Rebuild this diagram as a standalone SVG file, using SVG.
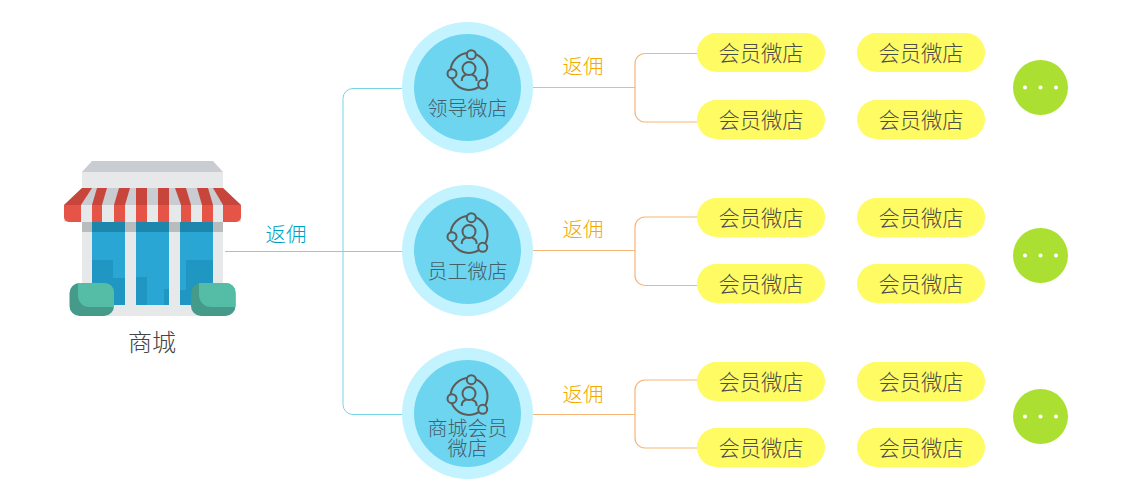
<svg xmlns="http://www.w3.org/2000/svg" xmlns:xlink="http://www.w3.org/1999/xlink" width="1130" height="498" viewBox="0 0 1130 498">
<style>
text{font-family:"Noto Sans CJK SC","Liberation Sans",sans-serif;text-anchor:middle;font-weight:300}
.blue{fill:none;stroke:#74d5e8;stroke-width:1}
.or{fill:none;stroke:#f7b577;stroke-width:1.200}
.pill{fill:#fffb62}
.pt{font-size:21.300px;fill:#4e4e48}
.rb{font-size:20.500px;fill:#f2a900}
.st{font-size:20px;fill:#45606b}
.outer{fill:#c3f3ff}
.inner{fill:#6dd5f0}
.ic{fill:none;stroke:#5e5a58;stroke-width:2}
.ics{fill:#6dd5f0;stroke:#5e5a58;stroke-width:2}
.more{fill:#abe032}
.dot{fill:#fff}
</style>
<defs>
<g id="icon">
<circle class="ic" cx="469" cy="71.500" r="18.500"/>
<circle class="ics" cx="471.300" cy="54.700" r="4.500"/>
<circle class="ics" cx="452" cy="73.700" r="4.500"/>
<circle class="ics" cx="482.700" cy="84.300" r="4.500"/>
<circle class="ic" cx="469" cy="68.500" r="6.500"/>
<path class="ic" d="M461.700 81C461.700 77.500 463.500 75.500 466 74.800M476.700 81C476.700 77.500 474.500 75.500 472 74.800"/>
</g>
<g id="m">
<rect class="pill" x="0" y="0" width="128" height="39" rx="19.500"/>
<text class="pt" x="64" y="27.500">会员微店</text>
</g>
<g id="dots">
<circle class="more" cx="0" cy="0" r="27.500"/>
<circle class="dot" cx="-15.500" cy="0" r="2"/>
<circle class="dot" cx="0" cy="0" r="2"/>
<circle class="dot" cx="15.500" cy="0" r="2"/>
</g>
</defs>

<g id="connectors">
<path class="blue" d="M225 251.500H402M402 88.500H353a10 10 0 0 0-10 10V404.500a10 10 0 0 0 10 10H402"/>
<path class="or" d="M533 87.500H634.500M697 53.500H645a10 10 0 0 0-10 10V112a10 10 0 0 0 10 10H697"/>
<path class="or" d="M533 250.500H634.500M697 217H645a10 10 0 0 0-10 10V275.500a10 10 0 0 0 10 10H697"/>
<path class="or" d="M533 414.500H634.500M697 380H645a10 10 0 0 0-10 10V438a10 10 0 0 0 10 10H697"/>
</g>
<g id="labels">
<text x="286" y="242" font-size="20.500" fill="#009fc4">返佣</text>
<text class="rb" x="583" y="74">返佣</text>
<text class="rb" x="583" y="237">返佣</text>
<text class="rb" x="583" y="402">返佣</text>
</g>

<g id="store">
<polygon points="92,161 213,161 223,172 82,172" fill="#c9ccd0"/>
<rect x="82" y="172" width="141" height="144" fill="#e6e8ea"/>
<polygon points="82,188 223,188 241,205 64,205" fill="#c9ccd0"/>
<g fill="#c7453b">
<polygon points="82,188 92,188 81,205 64,205"/>
<polygon points="97,188 107,188 102,205 92,205"/>
<polygon points="119,188 130,188 125,205 114,205"/>
<polygon points="136,188 147,188 147,205 136,205"/>
<polygon points="158,188 169,188 169,205 158,205"/>
<polygon points="175,188 186,188 191,205 181,205"/>
<polygon points="197,188 208,188 213,205 202,205"/>
<polygon points="213,188 223,188 241,205 223,205"/>
</g>
<rect x="64" y="205" width="177" height="17" fill="#e6e8ea"/>
<g fill="#e55446">
<path d="M64 205H81V222H69a5 5 0 0 1-5-5Z"/>
<rect x="92" y="205" width="10" height="17"/>
<rect x="114" y="205" width="11" height="17"/>
<rect x="136" y="205" width="11" height="17"/>
<rect x="158" y="205" width="11" height="17"/>
<rect x="181" y="205" width="10" height="17"/>
<rect x="202" y="205" width="11" height="17"/>
<path d="M223 205H241V217a5 5 0 0 1-5 5H223Z"/>
</g>
<rect x="82" y="222" width="141" height="10" fill="#b9bcbd"/>
<g fill="#29a6d3">
<rect x="92" y="222" width="33" height="83"/>
<rect x="136" y="222" width="33" height="83"/>
<rect x="180" y="222" width="33" height="83"/>
</g>
<g fill="#1f97c2">
<path d="M92 260H113V278H125V305H92Z"/>
<path d="M136 277H147V305H136Z"/>
<path d="M164 289H169V305H164Z"/>
<path d="M186 260H213V305H180V290H186Z"/>
</g>
<g fill="#1c86ad">
<rect x="92" y="222" width="33" height="10"/>
<rect x="136" y="222" width="33" height="10"/>
<rect x="180" y="222" width="33" height="10"/>
</g>
<rect x="69.500" y="283" width="44.500" height="33" rx="10" fill="#459a8a"/>
<path d="M78 283H105a9 9 0 0 1 9 9V307H89a11 11 0 0 1-11-11Z" fill="#55bca5"/>
<rect x="191" y="283" width="44.500" height="33" rx="10" fill="#459a8a"/>
<path d="M199 283H226.500a9 9 0 0 1 9 9V307H211a12 12 0 0 1-12-12Z" fill="#55bca5"/>
<text x="152" y="351" font-size="24" fill="#444">商城</text>
</g>

<g id="n1">
<circle class="outer" cx="467.500" cy="87.500" r="65.500"/>
<circle class="inner" cx="467.500" cy="87.500" r="53.500"/>
<use xlink:href="#icon" href="#icon"/>
<text class="st" x="467.500" y="115.500">领导微店</text>
</g>
<g id="n2">
<circle class="outer" cx="467.500" cy="250.500" r="65.500"/>
<circle class="inner" cx="467.500" cy="250.500" r="53.500"/>
<use xlink:href="#icon" href="#icon" y="163"/>
<text class="st" x="467.500" y="279">员工微店</text>
</g>
<g id="n3">
<circle class="outer" cx="467.500" cy="413.500" r="65.500"/>
<circle class="inner" cx="467.500" cy="413.500" r="53.500"/>
<use xlink:href="#icon" href="#icon" y="325"/>
<text class="st" x="467.500" y="436"><tspan x="467.500" y="436">商城会员</tspan><tspan x="467.500" y="456">微店</tspan></text>
</g>

<g id="m11"><use xlink:href="#m" href="#m" x="697" y="33"/></g>
<g id="m12"><use xlink:href="#m" href="#m" x="857" y="33"/></g>
<g id="m13"><use xlink:href="#m" href="#m" x="697" y="100"/></g>
<g id="m14"><use xlink:href="#m" href="#m" x="857" y="100"/></g>
<g id="m21"><use xlink:href="#m" href="#m" x="697" y="198"/></g>
<g id="m22"><use xlink:href="#m" href="#m" x="857" y="198"/></g>
<g id="m23"><use xlink:href="#m" href="#m" x="697" y="264"/></g>
<g id="m24"><use xlink:href="#m" href="#m" x="857" y="264"/></g>
<g id="m31"><use xlink:href="#m" href="#m" x="697" y="362"/></g>
<g id="m32"><use xlink:href="#m" href="#m" x="857" y="362"/></g>
<g id="m33"><use xlink:href="#m" href="#m" x="697" y="428"/></g>
<g id="m34"><use xlink:href="#m" href="#m" x="857" y="428"/></g>
<g id="more1"><use xlink:href="#dots" href="#dots" x="1040.500" y="87.500"/></g>
<g id="more2"><use xlink:href="#dots" href="#dots" x="1040.500" y="255.500"/></g>
<g id="more3"><use xlink:href="#dots" href="#dots" x="1040.500" y="416.500"/></g>
</svg>
